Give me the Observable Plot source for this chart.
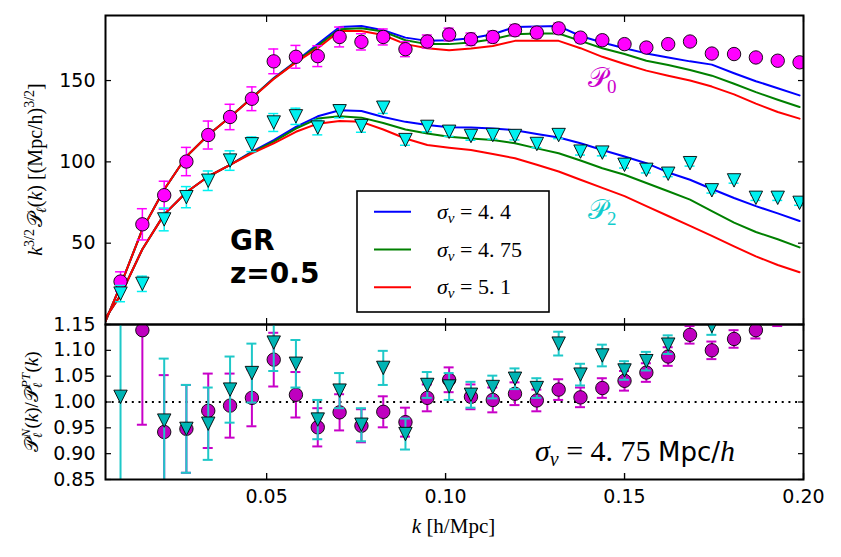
<!DOCTYPE html>
<html>
<head>
<meta charset="utf-8">
<script src="https://cdn.jsdelivr.net/npm/d3@7"></script>
<script src="https://cdn.jsdelivr.net/npm/@observablehq/plot@0.6"></script>
<style>
  body { margin: 0; background: #fff; }
  #chart { position: relative; width: 841px; height: 557px; }
  #chart svg { position: absolute; left: 0; overflow: visible; }
</style>
</head>
<body>
<div id="chart"></div>
<script>
// k bins [h/Mpc]
const kBins = [0.0092, 0.0153, 0.0214, 0.0276, 0.0337, 0.0398, 0.0459, 0.0520, 0.0582, 0.0643,
  0.0704, 0.0765, 0.0826, 0.0888, 0.0949, 0.1010, 0.1071, 0.1132, 0.1194, 0.1255,
  0.1316, 0.1377, 0.1438, 0.1500, 0.1561, 0.1622, 0.1683, 0.1744, 0.1806, 0.1867,
  0.1928, 0.1989];
// model curves start at the left edge of the k range
const kTheory = [0.005, ...kBins];

// k^{3/2} P_0(k): measured monopole and its errors
const p0Data = [26.4, 61.6, 79.5, 100.2, 116.5, 127.6, 138.8, 161.8, 164.6, 165.0,
  176.8, 173.8, 176.8, 169.3, 174.0, 178.3, 175.4, 176.8, 180.9, 179.5,
  182.1, 176.4, 174.8, 172.4, 170.3, 172.4, 174.0, 166.6, 166.3, 164.2, 162.2, 161.2];
const p0Err = [6.0, 9.6, 8.6, 8.7, 8.6, 7.8, 7.3, 7.6, 7.0, 6.4,
  6.1, 5.0, 4.9, 4.6, 4.0, 3.9, 3.8, 3.6, 3.5, 3.4,
  3.2, 3.0, 2.8, 2.6, 2.4, 2.2, 2.0, 1.9, 1.8, 1.7, 1.6, 1.5];
// k^{3/2} P_2(k): measured quadrupole and its errors
const p2Data = [19.0, 25.0, 64.6, 78.3, 88.4, 100.8, 110.8, 124.2, 128.0, 121.1,
  131.1, 122.0, 133.3, 113.4, 121.5, 118.5, 115.9, 116.5, 115.9, 111.0,
  116.5, 106.3, 105.7, 98.2, 95.1, 92.7, 99.2, 82.5, 88.6, 77.9, 77.9, 74.8];
const p2Err = [5.0, 4.7, 7.0, 6.5, 6.0, 6.0, 4.5, 5.5, 5.0, 4.5,
  4.0, 3.8, 3.5, 3.2, 3.0, 2.8, 2.6, 2.5, 2.4, 2.3,
  2.2, 2.1, 2.0, 2.0, 1.9, 1.8, 1.8, 1.7, 1.7, 1.6, 1.6, 1.5];

// model monopole for three velocity dispersions
const p0Sigma44 = [2, 24, 58.5, 83, 103.3, 116.5, 127.6, 139.4, 151.5, 161.8, 172.4,
  182.9, 183.5, 180.9, 176.4, 174.4, 174.8, 176.0, 178.5, 182.9, 183.3,
  183.5, 177.4, 173.4, 169.9, 166.7, 164.2, 161.8, 159.8, 154.5, 149.6, 145.3, 140.9];
const p0Sigma475 = [2, 24, 58.5, 83, 103.3, 116.5, 127.6, 139.4, 151.2, 161.5, 171.3,
  181.5, 182.1, 180.1, 174.8, 172.4, 172.4, 173.4, 175.4, 178.5, 178.9,
  178.9, 174.4, 169.9, 166.3, 162.2, 159.6, 156.5, 153.0, 148.0, 142.9, 138.2, 133.7];
const p0Sigma51 = [2, 24, 58.5, 83, 103.3, 116.5, 127.6, 139.2, 151.0, 161.2, 169.9,
  180.5, 180.5, 178.0, 172.4, 169.9, 168.7, 169.7, 171.3, 174.4, 174.4,
  174.4, 169.9, 164.6, 160.2, 156.1, 153.0, 150.0, 146.3, 141.5, 135.8, 130.7, 126.6];
// model quadrupole for three velocity dispersions
const p2Sigma44 = [4, 18, 46.3, 67.7, 81.3, 91, 98.2, 106.3, 113.4, 121.5, 128.0,
  131.7, 131.3, 127.6, 124.6, 122.6, 121.3, 121.1, 120.5, 119.5, 117.1,
  115.0, 111.4, 107.3, 103.3, 99.2, 93.5, 89.0, 83.3, 77.8, 72.8, 68.3, 63.6];
const p2Sigma475 = [4, 18, 46.3, 67.7, 81.3, 91, 98.2, 105.8, 112.4, 120.5, 126.6,
  128.0, 127.2, 123.9, 119.9, 117.5, 115.4, 114.4, 113.4, 111.4, 108.3,
  105.3, 100.8, 96.1, 92.1, 87.0, 81.9, 76.8, 69.7, 62.6, 56.9, 52.4, 47.4];
const p2Sigma51 = [4, 18, 46.3, 67.7, 81.3, 91, 98.2, 105.3, 111.4, 118.5, 123.5,
  125.2, 124.6, 119.9, 114.4, 110.4, 108.7, 107.3, 104.9, 102.2, 98.2,
  94.1, 89.0, 84.0, 78.9, 72.8, 66.7, 60.6, 54.5, 48.0, 41.9, 36.6, 32.1];

// ratio N-body / PT model (sigma_v = 4.75); null = outside the shown range
const r0Data = [null, 1.139, 0.942, 0.948, 0.983, 0.993, 1.008, 1.082, 1.014, 0.951,
  0.980, 0.954, 0.981, 0.961, 1.008, 1.043, 1.010, 1.004, 1.016, 1.003,
  1.024, 1.009, 1.027, 1.041, 1.057, 1.088, 1.130, 1.100, 1.122, 1.139, 1.163, null];
const r0Err = [null, 0.183, 0.11, 0.085, 0.072, 0.062, 0.055, 0.052, 0.044, 0.037,
  0.035, 0.032, 0.030, 0.028, 0.026, 0.024, 0.024, 0.024, 0.022, 0.021,
  0.020, 0.019, 0.019, 0.019, 0.018, 0.018, 0.017, 0.017, 0.017, 0.016, 0.016, null];
const r2Data = [1.010, null, 0.964, 0.948, 0.958, 1.024, 1.056, 1.115, 1.074, 0.966,
  1.022, 0.956, 1.066, 0.938, 1.033, 1.030, 1.014, 1.029, 1.045, 1.027,
  1.113, 1.053, 1.090, 1.061, 1.079, 1.111, null, 1.147, null, null, null, null];
const r2Err = [0.35, null, 0.12, 0.085, 0.070, 0.064, 0.057, 0.055, 0.046, 0.038,
  0.034, 0.032, 0.033, 0.030, 0.025, 0.026, 0.025, 0.022, 0.020, 0.019,
  0.023, 0.021, 0.021, 0.018, 0.018, 0.018, null, 0.017, null, null, null, null];

const legendLabels = ["4. 4", "4. 75", "5. 1"];
const lineColors = ["#0000ff", "#008000", "#ff0000"];
const xTicks = [0.05, 0.10, 0.15, 0.20];
const topYTicks = [50, 100, 150];
const ratioTicks = [0.85, 0.90, 0.95, 1.00, 1.05, 1.10, 1.15];

const rows = (ks, vs, es) =>
  ks.map((k, i) => ({k, v: vs[i], e: es ? es[i] : 0})).filter(d => d.v != null);

// triangle pointing down, same box as a circle of radius r
const triangleDown = {
  draw(ctx, size) {
    const r = Math.sqrt(size / Math.PI);
    ctx.moveTo(0, r);
    ctx.lineTo(-r, -r);
    ctx.lineTo(r, -r);
    ctx.closePath();
  }
};

function errorBars(data, color, width, cap) {
  const common = {stroke: color, strokeWidth: width, clip: true};
  return [
    Plot.ruleX(data, {x: "k", y1: d => d.v - d.e, y2: d => d.v + d.e, ...common}),
    Plot.ruleY(data, {x1: "k", x2: "k", y: d => d.v - d.e, insetLeft: -cap, insetRight: -cap, ...common}),
    Plot.ruleY(data, {x1: "k", x2: "k", y: d => d.v + d.e, insetLeft: -cap, insetRight: -cap, ...common})
  ];
}

function frameTicks(yTicks) {
  const tick = {tickSize: -6, tickFormat: () => "", label: null, strokeWidth: 1.2};
  return [
    Plot.axisX(xTicks, {anchor: "top", ...tick}),
    Plot.axisX(xTicks, {anchor: "bottom", ...tick}),
    Plot.axisY(yTicks, {anchor: "right", ...tick})
  ];
}

const W = 841, mL = 105, mR = 38;
const xDomain = [0.005, 0.2];
const axisFont = "DejaVu Sans";

// upper panel: multipoles and models
const topPlot = Plot.plot({
  width: W, height: 324,
  marginLeft: mL, marginRight: mR, marginTop: 15, marginBottom: 0,
  style: {fontFamily: axisFont, fontSize: "19px", background: "transparent", overflow: "visible"},
  x: {domain: xDomain, label: null, axis: null},
  y: {domain: [0, 190], label: null, axis: null},
  marks: [
    Plot.line(rows(kTheory, p0Sigma44), {x: "k", y: "v", stroke: lineColors[0], strokeWidth: 2, clip: true}),
    Plot.line(rows(kTheory, p0Sigma475), {x: "k", y: "v", stroke: lineColors[1], strokeWidth: 2, clip: true}),
    Plot.line(rows(kTheory, p0Sigma51), {x: "k", y: "v", stroke: lineColors[2], strokeWidth: 2, clip: true}),
    Plot.line(rows(kTheory, p2Sigma44), {x: "k", y: "v", stroke: lineColors[0], strokeWidth: 2, clip: true}),
    Plot.line(rows(kTheory, p2Sigma475), {x: "k", y: "v", stroke: lineColors[1], strokeWidth: 2, clip: true}),
    Plot.line(rows(kTheory, p2Sigma51), {x: "k", y: "v", stroke: lineColors[2], strokeWidth: 2, clip: true}),
    ...errorBars(rows(kBins, p0Data, p0Err), "#ff00ff", 1.5, 5),
    Plot.dot(rows(kBins, p0Data), {x: "k", y: "v", r: 6.7, fill: "#ff00ff", stroke: "#000", strokeWidth: 0.9, clip: true}),
    ...errorBars(rows(kBins, p2Data, p2Err), "#00f0f0", 1.5, 5),
    Plot.dot(rows(kBins, p2Data), {x: "k", y: "v", r: 6.7, symbol: triangleDown, fill: "#00f0f0", stroke: "#000", strokeWidth: 0.9, clip: true}),
    Plot.axisY(topYTicks, {anchor: "left", tickSize: -6, tickPadding: 16, label: null, strokeWidth: 1.2, fontSize: 19}),
    ...frameTicks(topYTicks),
    Plot.frame({stroke: "#000", strokeWidth: 2})
  ]
});

// lower panel: ratio to the sigma_v = 4.75 model
const bottomPlot = Plot.plot({
  width: W, height: 233,
  marginLeft: mL, marginRight: mR, marginTop: 0, marginBottom: 78,
  style: {fontFamily: axisFont, fontSize: "19px", background: "transparent", overflow: "visible"},
  x: {domain: xDomain, label: null, axis: null},
  y: {domain: [0.85, 1.15], label: null, axis: null},
  marks: [
    Plot.ruleY([1], {stroke: "#000", strokeWidth: 2, strokeDasharray: "2,4.7"}),
    ...errorBars(rows(kBins, r0Data, r0Err), "#c800c8", 2, 5),
    Plot.dot(rows(kBins, r0Data), {x: "k", y: "v", r: 6.7, fill: "#bf00bf", stroke: "#000", strokeWidth: 0.9, clip: true}),
    ...errorBars(rows(kBins, r2Data, r2Err), "#1ec8c8", 2, 5),
    Plot.dot(rows(kBins, r2Data), {x: "k", y: "v", r: 6.7, symbol: triangleDown, fill: "#00b4b4", stroke: "#000", strokeWidth: 0.9, clip: true}),
    Plot.axisY(ratioTicks, {anchor: "left", tickSize: -6, tickPadding: 16, label: null, strokeWidth: 1.2, tickFormat: d3.format(".2f"), fontSize: 19}),
    Plot.axisX(xTicks, {anchor: "bottom", tickSize: -6, tickPadding: 16, label: null, strokeWidth: 1.2, tickFormat: d3.format(".2f"), fontSize: 19}),
    ...frameTicks(ratioTicks),
    Plot.frame({stroke: "#000", strokeWidth: 2})
  ]
});

const chart = document.getElementById("chart");
topPlot.style.top = "0px";
bottomPlot.style.top = "324px";
chart.append(topPlot, bottomPlot);

const mathFont = "'Liberation Serif', 'DejaVu Serif', serif";
const scriptP = "\u{1D4AB}";

// write a text made of styled runs
function addText(svg, x, y, parts, attrs = {}) {
  const t = d3.select(svg).append("text").attr("x", x).attr("y", y).attr("text-anchor", "start");
  Object.entries(attrs).forEach(([k, v]) => t.attr(k, v));
  parts.forEach(p => {
    const s = t.append("tspan").text(p.t);
    if (p.it) s.attr("font-style", "italic");
    if (p.size) s.attr("font-size", p.size);
    if (p.dy) s.attr("dy", p.dy);
    if (p.dx) s.attr("dx", p.dx);
    if (p.x != null) s.attr("x", p.x);
    if (p.family) s.attr("font-family", p.family);
  });
  return t;
}

// GR / redshift annotation
const boldSans = {"font-family": "DejaVu Sans", "font-weight": "bold", "font-size": 28, fill: "#000"};
addText(topPlot, 230, 250, [{t: "GR"}], boldSans);
addText(topPlot, 230, 283, [{t: "z=0.5"}], boldSans);
// multipole labels
addText(topPlot, 588, 87, [{t: scriptP}, {t: "0", size: 19, dy: 6}], {"font-family": mathFont, "font-size": 27, fill: "#cc00cc"});
addText(topPlot, 588, 219, [{t: scriptP}, {t: "2", size: 19, dy: 6}], {"font-family": mathFont, "font-size": 27, fill: "#11cccc"});

// legend
const lg = d3.select(topPlot).append("g");
lg.append("rect").attr("x", 357).attr("y", 191).attr("width", 192).attr("height", 121)
  .attr("fill", "#fff").attr("stroke", "#000").attr("stroke-width", 1.6);
legendLabels.forEach((lab, i) => {
  const y = 211.7 + i * 37.8;
  lg.append("line").attr("x1", 374).attr("x2", 411).attr("y1", y).attr("y2", y)
    .attr("stroke", lineColors[i]).attr("stroke-width", 2);
  addText(lg.node(), 437, y + 7, [
    {t: "σ", it: true}, {t: "v", it: true, size: 15, dy: 4},
    {t: " = " + lab, dy: -4}
  ], {"font-family": mathFont, "font-size": 22, fill: "#000"});
});

// y label of upper panel
addText(topPlot, 42, 169.5, [
  {t: "k", it: true}, {t: "3/2", size: 14, dy: -8},
  {t: scriptP, dy: 8, dx: 2}, {t: "ℓ", it: true, size: 14, dy: 4},
  {t: "(", dy: -4}, {t: "k", it: true}, {t: ") [(Mpc/h)"},
  {t: "3/2", size: 14, dy: -8}, {t: "]", dy: 8}
], {"font-family": mathFont, "font-size": 20, fill: "#000", "text-anchor": "middle",
    transform: "rotate(-90 42 169.5)"});

// y label of lower panel
addText(bottomPlot, 38, 77.5, [
  {t: scriptP}, {t: "N", it: true, size: 13, dy: -8},
  {t: "ℓ", it: true, size: 13, dy: 12, dx: -9},
  {t: "(", dy: -4, dx: 4}, {t: "k", it: true}, {t: ")/" + scriptP},
  {t: "PT", it: true, size: 13, dy: -8},
  {t: "ℓ", it: true, size: 13, dy: 12, dx: -15},
  {t: "(", dy: -4, dx: 10}, {t: "k", it: true}, {t: ")"}
], {"font-family": mathFont, "font-size": 19, fill: "#000", "text-anchor": "middle",
    transform: "rotate(-90 38 77.5)"});

// x label
addText(bottomPlot, 453.5, 209, [
  {t: "k", it: true}, {t: " [h/Mpc]"}
], {"font-family": mathFont, "font-size": 21, fill: "#000", "text-anchor": "middle"});

// sigma_v annotation in the ratio panel
addText(bottomPlot, 535, 137, [
  {t: "σ", it: true, family: mathFont}, {t: "v", it: true, size: 20, dy: 5, family: mathFont},
  {t: " = 4. 75 ", dy: -5, family: mathFont}, {t: "Mpc/", family: "DejaVu Sans", size: 26},
  {t: "h", it: true, family: mathFont}
], {"font-size": 30, fill: "#000"});
</script>
</body>
</html>
